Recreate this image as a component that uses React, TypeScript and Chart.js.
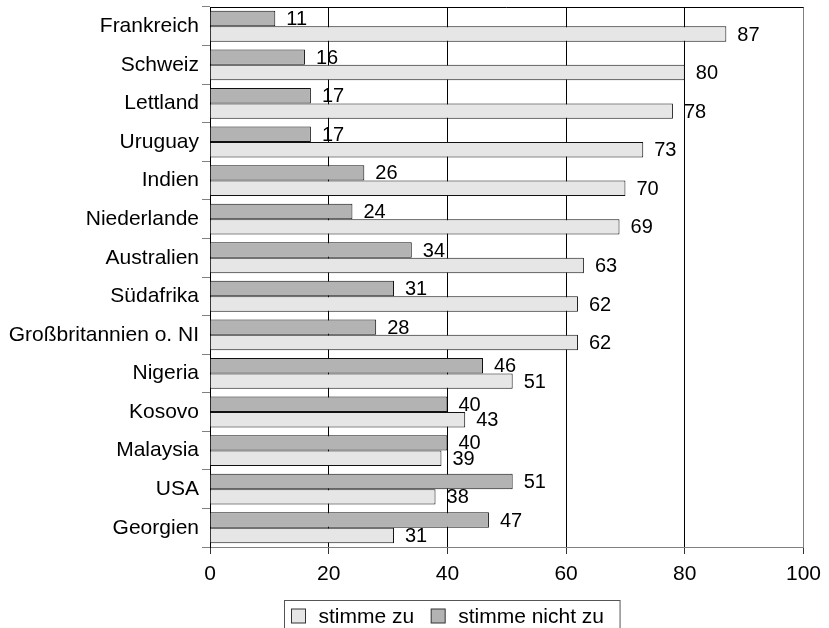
import { useEffect, useRef } from 'react';
import { Chart, registerables } from 'chart.js';
import type { Plugin } from 'chart.js';

Chart.register(...registerables);

const countries = [
  'Frankreich',
  'Schweiz',
  'Lettland',
  'Uruguay',
  'Indien',
  'Niederlande',
  'Australien',
  'Südafrika',
  'Großbritannien o. NI',
  'Nigeria',
  'Kosovo',
  'Malaysia',
  'USA',
  'Georgien',
];
const stimmeNichtZu = [11, 16, 17, 17, 26, 24, 34, 31, 28, 46, 40, 40, 51, 47];
const stimmeZu = [87, 80, 78, 73, 70, 69, 63, 62, 62, 51, 43, 39, 38, 31];
const xTicks = [0, 20, 40, 60, 80, 100];

const FONT = '"Liberation Sans", Arial, sans-serif';
const LIGHT = '#e6e6e6';
const DARK = '#b3b3b3';

// value labels to the right of each bar
const valueLabels: Plugin<'bar'> = {
  id: 'valueLabels',
  afterDatasetsDraw(chart) {
    const { ctx } = chart;
    ctx.save();
    ctx.font = `20px ${FONT}`;
    ctx.fillStyle = '#000';
    ctx.textAlign = 'left';
    ctx.textBaseline = 'middle';
    chart.data.datasets.forEach((ds, i) => {
      chart.getDatasetMeta(i).data.forEach((el, j) => {
        ctx.fillText(String(ds.data[j]), el.x + 11, el.y + 1);
      });
    });
    ctx.restore();
  },
};

// top line of the plot frame
const frame: Plugin<'bar'> = {
  id: 'frame',
  beforeDatasetsDraw(chart) {
    const { ctx, chartArea: a } = chart;
    ctx.save();
    ctx.lineWidth = 1;
    ctx.strokeStyle = '#000';
    ctx.beginPath();
    ctx.moveTo(a.left, a.top + 0.5);
    ctx.lineTo(a.right, a.top + 0.5);
    ctx.stroke();
    ctx.restore();
  },
};

// boxed legend under the axis, "stimme zu" first
const boxLegend: Plugin<'bar'> = {
  id: 'boxLegend',
  afterDraw(chart) {
    const { ctx } = chart;
    const items = [chart.data.datasets[1], chart.data.datasets[0]];
    ctx.save();
    ctx.font = `21px ${FONT}`;
    const sq = 14;
    const widths = items.map((d) => ctx.measureText(String(d.label)).width);
    const total = 7 + sq + 13 + widths[0] + 17 + sq + 13 + widths[1] + 16;
    const left = Math.round(452 - total / 2) + 0.5;
    const top = 600.5;
    ctx.strokeStyle = '#555';
    ctx.lineWidth = 1;
    ctx.strokeRect(left, top, total, 40);
    let x = left + 7;
    const cy = 616;
    items.forEach((d, i) => {
      ctx.fillStyle = String(d.backgroundColor);
      ctx.fillRect(x, cy - sq / 2, sq, sq);
      ctx.strokeStyle = '#333';
      ctx.strokeRect(x, cy - sq / 2, sq, sq);
      x += sq + 13;
      ctx.fillStyle = '#000';
      ctx.textBaseline = 'middle';
      ctx.textAlign = 'left';
      ctx.fillText(String(d.label), x, cy + 1);
      x += widths[i] + 17;
    });
    ctx.restore();
  },
};

export default function App() {
  const canvasRef = useRef<HTMLCanvasElement>(null);

  useEffect(() => {
    const canvas = canvasRef.current;
    if (!canvas) return;
    Chart.defaults.font.family = FONT;
    const chart = new Chart(canvas, {
      type: 'bar',
      data: {
        labels: countries,
        datasets: [
          {
            label: 'stimme nicht zu',
            data: stimmeNichtZu,
            backgroundColor: DARK,
            borderColor: '#111',
            borderWidth: 1,
          },
          {
            label: 'stimme zu',
            data: stimmeZu,
            backgroundColor: LIGHT,
            borderColor: '#111',
            borderWidth: 1,
          },
        ],
      },
      options: {
        indexAxis: 'y',
        responsive: false,
        animation: false,
        datasets: { bar: { categoryPercentage: 0.8, barPercentage: 1.0 } },
        layout: { padding: { top: 7, right: 25, left: 0, bottom: 0 } },
        plugins: {
          legend: { display: false },
          tooltip: { enabled: false },
        },
        scales: {
          x: {
            min: 0,
            max: 100,
            afterBuildTicks: (s) => {
              s.ticks = xTicks.map((v) => ({ value: v }));
            },
            afterFit: (s) => {
              s.height = 81;
            },
            grid: {
              color: (c) => (c.tick && c.tick.value === 100 ? '#808080' : '#000'),
              tickLength: 7,
              tickColor: '#333',
            },
            border: { color: '#808080' },
            ticks: {
              color: '#000',
              font: { size: 21 },
              padding: 8,
            },
          },
          y: {
            afterFit: (s) => {
              s.width = 210;
              s.paddingTop = 0;
              s.paddingBottom = 0;
            },
            grid: {
              offset: true,
              drawOnChartArea: false,
              tickLength: 8,
              tickColor: '#808080',
            },
            border: { color: '#000' },
            ticks: {
              color: '#000',
              font: { size: 21 },
              padding: 3,
            },
          },
        },
      },
      plugins: [frame, valueLabels, boxLegend],
    });
    return () => chart.destroy();
  }, []);

  return (
    <div style={{ position: 'absolute', left: 0, top: 0, width: 829, height: 628, background: '#fff' }}>
      <canvas ref={canvasRef} width={829} height={628} style={{ width: 829, height: 628 }} />
    </div>
  );
}
